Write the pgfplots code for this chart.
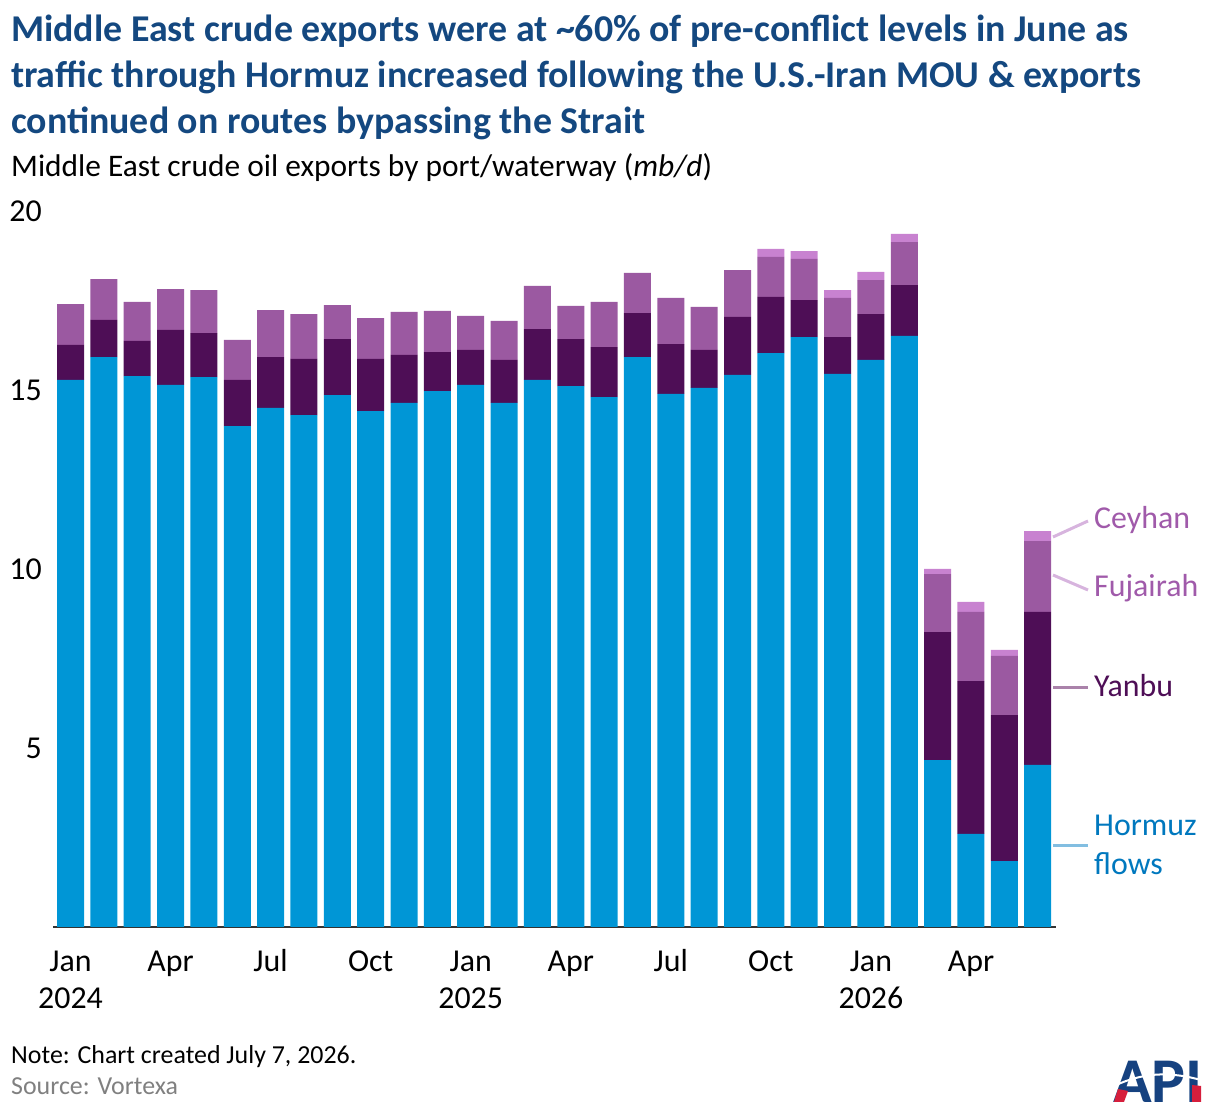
\documentclass[border=0pt]{standalone}
\usepackage{pgfplots}
\pgfplotsset{compat=1.18}
\usepackage{pgfplotstable}
\usepackage{fontspec}
\setmainfont{Carlito}
\definecolor{hormuz}{RGB}{0,150,214}
\definecolor{yanbu}{RGB}{78,14,86}
\definecolor{fuj}{RGB}{155,89,161}
\definecolor{cey}{RGB}{200,130,208}
\definecolor{titleblue}{RGB}{20,72,128}
\definecolor{labpurple}{RGB}{160,90,170}
\definecolor{labblue}{RGB}{0,120,190}
\definecolor{leadpurple}{RGB}{215,180,222}
\definecolor{leadyanbu}{RGB}{170,130,170}
\definecolor{leadblue}{RGB}{130,190,225}
\definecolor{apiblue}{RGB}{22,66,128}
\definecolor{apired}{RGB}{214,30,60}

\pgfplotstableread{
x H Y F C
0 15.28 0.98 1.14 0
1 15.92 1.04 1.14 0
2 15.39 0.98 1.09 0
3 15.14 1.54 1.14 0
4 15.36 1.23 1.20 0
5 13.99 1.29 1.12 0
6 14.50 1.42 1.31 0
7 14.30 1.57 1.25 0
8 14.86 1.56 0.95 0
9 14.41 1.46 1.14 0
10 14.64 1.34 1.20 0
11 14.97 1.09 1.15 0
12 15.14 0.98 0.95 0
13 14.64 1.20 1.09 0
14 15.28 1.42 1.21 0
15 15.11 1.31 0.93 0
16 14.80 1.40 1.26 0
17 15.92 1.23 1.12 0
18 14.89 1.39 1.29 0
19 15.06 1.06 1.20 0
20 15.42 1.62 1.31 0
21 16.03 1.57 1.12 0.22
22 16.48 1.03 1.15 0.22
23 15.45 1.03 1.09 0.22
24 15.84 1.28 0.95 0.23
25 16.51 1.42 1.20 0.23
26 4.66 3.58 1.62 0.14
27 2.60 4.27 1.93 0.28
28 1.84 4.08 1.65 0.17
29 4.53 4.27 1.98 0.28
}\datatable

\begin{document}
\begin{tikzpicture}
\path[use as bounding box] (0bp,0bp) rectangle (1220bp,1116bp);
\begin{axis}[
  at={(53bp,189bp)}, anchor=south west,
  scale only axis, width=1003bp, height=716bp,
  xmin=-0.525, xmax=29.55, ymin=0, ymax=20,
  ybar stacked, bar width=27bp,
  axis x line*=bottom, axis y line*=left,
  y axis line style={draw=none},
  x axis line style={draw=black!80, line width=2.2bp},
  major tick length=0pt,
  ytick={5,10,15,20},
  xtick={0,3,...,27},
  xticklabels={{\strut Jan\\2024},{\strut Apr},{\strut Jul},{\strut Oct},{\strut Jan\\2025},{\strut Apr},{\strut Jul},{\strut Oct},{\strut Jan\\2026},{\strut Apr}},
  ticklabel style={font=\fontsize{32}{38}\selectfont},
  xticklabel style={align=center, anchor=north, yshift=-14bp},
  yticklabel style={anchor=east, inner sep=0pt, xshift=-11bp},
  /pgf/number format/assume math mode=true,
  clip=false,
]
\addplot[fill=hormuz, draw=none] table[x=x, y=H] {\datatable};
\addplot[fill=yanbu, draw=none] table[x=x, y=Y] {\datatable};
\addplot[fill=fuj, draw=none] table[x=x, y=F] {\datatable};
\addplot[fill=cey, draw=none] table[x=x, y=C] {\datatable};
\end{axis}

\begin{scope}[x=1bp,y=1bp]
% titles
\node[anchor=base west, inner sep=0pt, text=titleblue, font=\bfseries\fontsize{38}{46}\selectfont] at (11,1074) {Middle East crude exports were at \textasciitilde 60\% of pre-conflict levels in June as};
\node[anchor=base west, inner sep=0pt, text=titleblue, font=\bfseries\fontsize{38}{46}\selectfont] at (11,1028) {traffic through Hormuz increased following the U.S.-Iran MOU \& exports};
\node[anchor=base west, inner sep=0pt, text=titleblue, font=\bfseries\fontsize{38}{46}\selectfont] at (11,982) {continued on routes bypassing the Strait};
\node[anchor=base west, inner sep=0pt, font=\fontsize{31.5}{36}\selectfont] at (11,939) {Middle East crude oil exports by port/waterway (\textit{mb/d})};

% series labels
\draw[leadpurple, line width=3bp] (1053,579) -- (1088,595);
\node[anchor=west, inner sep=0pt, text=labpurple, font=\fontsize{32}{36}\selectfont] at (1094,596) {Ceyhan};
\draw[leadpurple, line width=3bp] (1053,541) -- (1088,526);
\node[anchor=west, inner sep=0pt, text=labpurple, font=\fontsize{32}{36}\selectfont] at (1094,528) {Fujairah};
\draw[leadyanbu, line width=3bp] (1053,428) -- (1088,428);
\node[anchor=west, inner sep=0pt, text=yanbu, font=\fontsize{32}{36}\selectfont] at (1094,430) {Yanbu};
\draw[leadblue, line width=3bp] (1053,270) -- (1088,270);
\node[anchor=west, inner sep=0pt, text=labblue, font=\fontsize{32}{36}\selectfont] at (1094,291) {Hormuz};
\node[anchor=west, inner sep=0pt, text=labblue, font=\fontsize{32}{36}\selectfont] at (1094,252) {flows};

% notes
\node[anchor=base west, inner sep=0pt, font=\fontsize{26}{30}\selectfont] at (11,53) {Note: Chart created July 7, 2026.};
\node[anchor=base west, inner sep=0pt, text=black!50, font=\fontsize{26}{30}\selectfont] at (11,22) {Source: Vortexa};

% logo
\node[anchor=base west, inner sep=0pt, text=apiblue, font=\bfseries\fontsize{64}{64}\selectfont] at (1113,14) {API};
\fill[apired] (1114,14) -- (1124,14) -- (1128,25) -- (1118,27) -- cycle;
\fill[apired] (1192,14) -- (1201,14) -- (1201,30) -- (1192,31) -- cycle;
\draw[white, line width=2bp] (1110,28) .. controls (1145,46) and (1175,44) .. (1208,34);
\end{scope}
\end{tikzpicture}
\end{document}
